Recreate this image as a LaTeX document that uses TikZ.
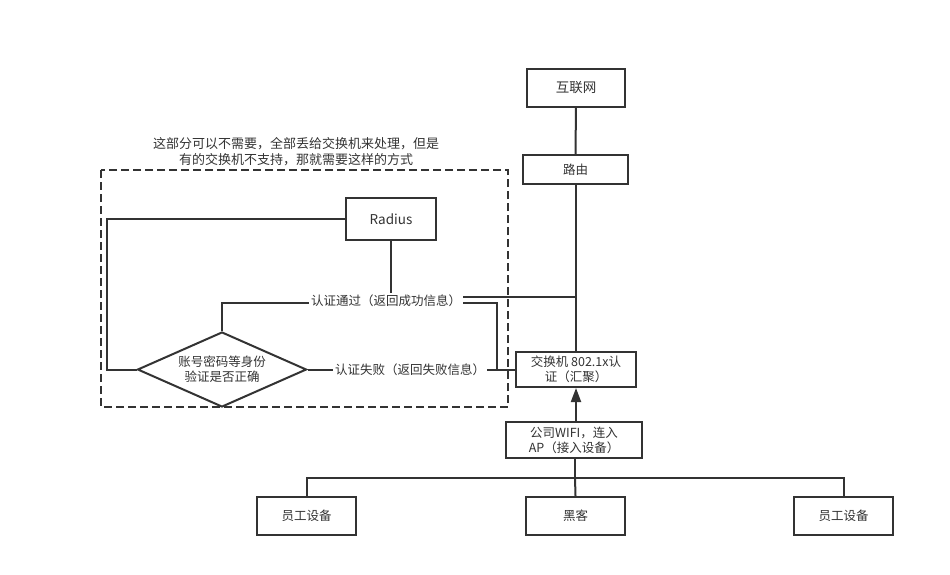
\documentclass[tikz,border=0pt]{standalone}
\usepackage{fontspec}
\setmainfont{Noto Sans CJK SC}
\usetikzlibrary{shapes.geometric,arrows.meta}
\definecolor{ink}{HTML}{333333}
\begin{document}
\begin{tikzpicture}[x=1pt,y=-1pt,
  every node/.style={text=ink,font=\fontsize{12.5}{15}\selectfont},
  box/.style={draw=ink,line width=2pt,rectangle,inner sep=0pt,align=center},
  wire/.style={draw=ink,line width=2pt},
  lbl/.style={fill=white,inner xsep=2pt,inner ysep=2pt}]
\useasboundingbox (0,0) rectangle (950,574);
% dashed area
\draw[ink,line width=2pt,dash pattern=on 8pt off 4pt] (101,170) rectangle (508,407);
\node[align=center,font=\fontsize{13}{16}\selectfont] (note) at (296,152)
  {这部分可以不需要，全部丢给交换机来处理，但是\\有的交换机不支持，那就需要这样的方式};
% main nodes
\node[box,minimum width=98pt,minimum height=38pt,font=\fontsize{13.5}{16}\selectfont] (net) at (576,88) {互联网};
\node[box,minimum width=105pt,minimum height=29pt] (router) at (575.5,169.5) {路由};
\node[box,minimum width=120pt,minimum height=35pt] (sw) at (576,369.5) {交换机 802.1x认\\证（汇聚）};
\node[box,minimum width=136pt,minimum height=36pt] (ap) at (574,440) {公司WIFI，连入\\AP（接入设备）};
\node[box,minimum width=99pt,minimum height=38pt] (dev1) at (306.5,516) {员工设备};
\node[box,minimum width=99pt,minimum height=38pt] (hack) at (575.5,516) {黑客};
\node[box,minimum width=99pt,minimum height=38pt] (dev2) at (843.5,516) {员工设备};
\node[box,minimum width=90pt,minimum height=42pt,font=\fontsize{13.5}{16}\selectfont] (radius) at (391,219) {Radius};
\node[draw=ink,line width=2pt,diamond,shape aspect=2.25,inner sep=0pt,minimum width=169pt,minimum height=75pt,align=center] (chk) at (222,369.5) {账号密码等身份\\验证是否正确};
% connectors
\draw[wire] (net) -- (router);
\draw[wire] (router.south -| sw.north) -- (sw.north);
\draw[wire,-{Triangle[width=10pt,length=14pt]}] (ap.north -| sw.south) -- (sw.south);
\coordinate (bus) at (575,478);
\draw[wire] (ap.south -| bus) -- (bus);
\draw[wire] (dev1.north) |- (dev2.north |- bus) -- (dev2.north);
\draw[wire] (bus) -- (hack.north);
\draw[wire] (radius.west) -- ++(-238,0) |- (chk.west);
\coordinate (jB) at (576,297);
\draw[wire] (radius.south) |- (jB);
\coordinate (jA) at (497,302.5);
\draw[wire] (chk.north) |- (jA) |- (sw.west);
\node[lbl] (lok) at (386,301) {认证通过（返回成功信息）};
\draw[wire] (chk.east) -- (sw.west);
\node[lbl] (lfail) at (410,369.5) {认证失败（返回失败信息）};
\end{tikzpicture}
\end{document}
